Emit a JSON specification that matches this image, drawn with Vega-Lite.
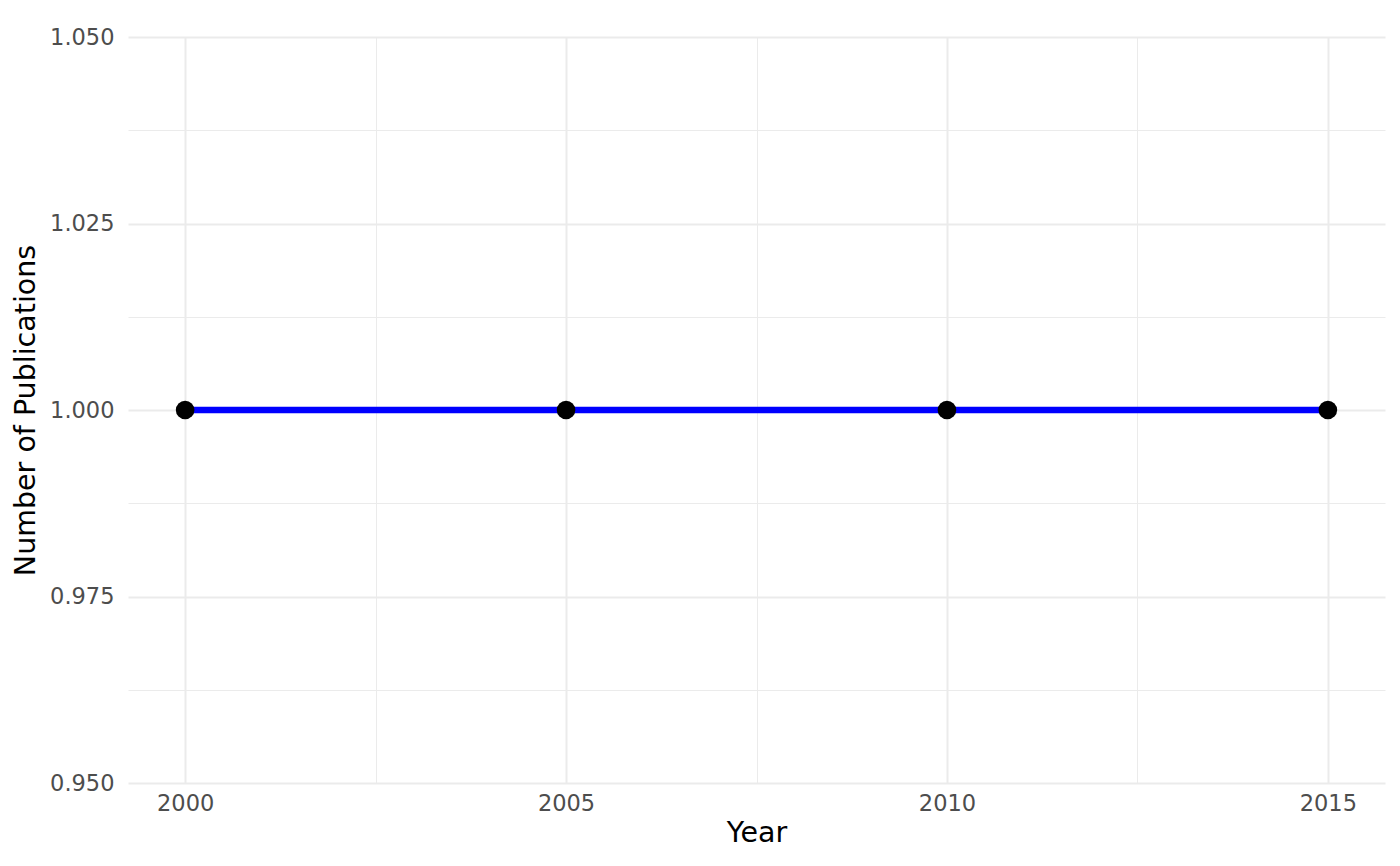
{
  "$schema": "https://vega.github.io/schema/vega-lite/v6.json",
  "width": 1257,
  "height": 746,
  "autosize": {"type": "none"},
  "padding": {"left": 128, "top": 37, "right": 15, "bottom": 83},
  "background": "white",
  "config": {
    "view": {"stroke": null},
    "font": "DejaVu Sans",
    "axis": {
      "domain": false,
      "ticks": false,
      "labelFont": "DejaVu Sans",
      "titleFont": "DejaVu Sans",
      "labelColor": "#4d4d4d",
      "labelFontSize": 22.5,
      "titleFontSize": 28.5,
      "titleFontWeight": "normal",
      "titleColor": "black",
      "gridColor": "#ebebeb"
    }
  },
  "data": {
    "values": [
      {"Year": 2000, "Publications": 1},
      {"Year": 2005, "Publications": 1},
      {"Year": 2010, "Publications": 1},
      {"Year": 2015, "Publications": 1}
    ]
  },
  "resolve": {"axis": {"x": "independent", "y": "independent"}},
  "layer": [
    {
      "mark": {"type": "point", "opacity": 0},
      "encoding": {
        "x": {
          "field": "Year", "type": "quantitative",
          "scale": {"domain": [1999.25, 2015.75], "nice": false, "zero": false},
          "axis": {"values": [2002.5, 2007.5, 2012.5], "labels": false, "title": null, "grid": true, "gridWidth": 1, "orient": "bottom"}
        },
        "y": {
          "field": "Publications", "type": "quantitative",
          "scale": {"domain": [0.95, 1.05], "nice": false, "zero": false},
          "axis": {"values": [0.9625, 0.9875, 1.0125, 1.0375], "labels": false, "title": null, "grid": true, "gridWidth": 1, "orient": "left"}
        }
      }
    },
    {
      "mark": {"type": "line", "color": "#0000ff", "strokeWidth": 6.5},
      "encoding": {
        "x": {
          "field": "Year", "type": "quantitative",
          "scale": {"domain": [1999.25, 2015.75], "nice": false, "zero": false},
          "axis": {"values": [2000, 2005, 2010, 2015], "format": "d", "title": "Year", "grid": true, "gridWidth": 2, "labelPadding": 9, "titlePadding": 4, "orient": "bottom"}
        },
        "y": {
          "field": "Publications", "type": "quantitative",
          "scale": {"domain": [0.95, 1.05], "nice": false, "zero": false},
          "axis": {"values": [0.95, 0.975, 1.0, 1.025, 1.05], "format": ".3f", "title": "Number of Publications", "grid": true, "gridWidth": 2, "labelPadding": 14, "titlePadding": 9, "orient": "left"}
        }
      }
    },
    {
      "mark": {"type": "point", "filled": true, "color": "black", "opacity": 1, "size": 346},
      "encoding": {
        "x": {"field": "Year", "type": "quantitative", "scale": {"domain": [1999.25, 2015.75], "nice": false, "zero": false}, "axis": null},
        "y": {"field": "Publications", "type": "quantitative", "scale": {"domain": [0.95, 1.05], "nice": false, "zero": false}, "axis": null}
      }
    }
  ]
}
